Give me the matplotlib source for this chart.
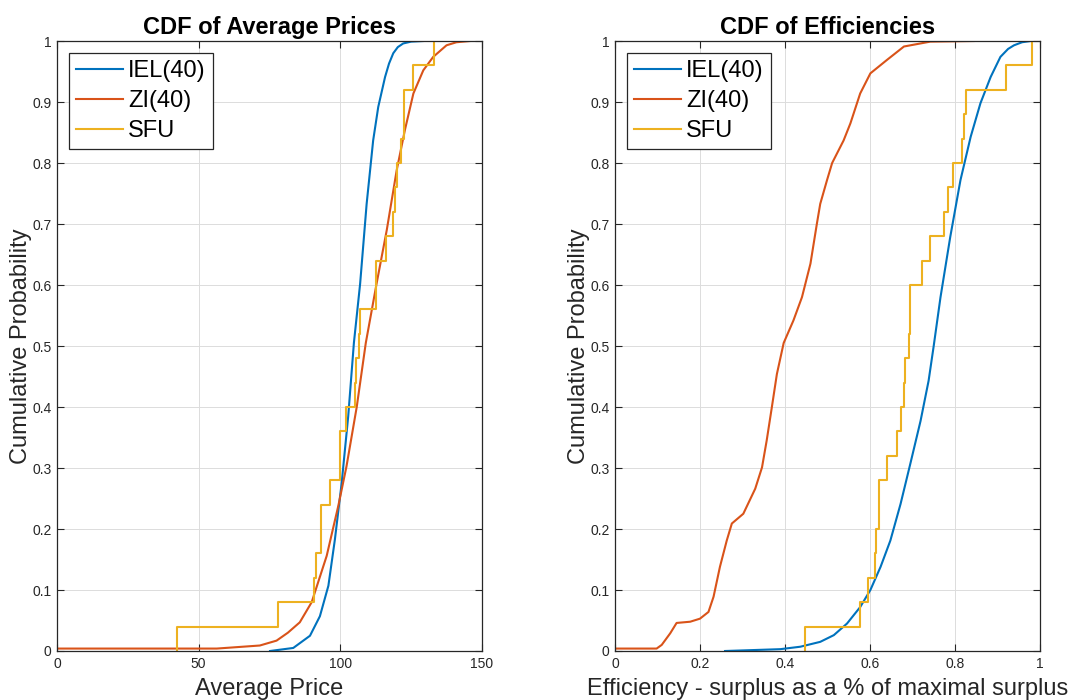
import matplotlib.pyplot as plt
import numpy as np
from matplotlib.ticker import FormatStrFormatter

plt.rcParams['font.family'] = ['Liberation Sans', 'DejaVu Sans']

# MATLAB default line colours
blue = '#0072BD'
red = '#D95319'
yellow = '#EDB120'
axis_col = '#262626'

# Left panel: CDF of average prices
iel_price_x = [75.2, 83.4, 89.3, 92.8, 95.8, 98.1, 100.5, 102.8, 104.8, 107.0, 109.3,
               111.6, 113.4, 115.8, 117.2, 118.7, 120.3, 122.2, 125.0, 129.3]
iel_price_y = [0.0, 0.005, 0.025, 0.057, 0.107, 0.183, 0.276, 0.385, 0.505, 0.602, 0.733,
               0.837, 0.892, 0.941, 0.963, 0.98, 0.99, 0.996, 0.999, 1.0]

zi_price_x = [0.0, 56.4, 71.6, 77.5, 81.5, 85.7, 89.9, 95.2, 99.3, 102.2, 105.8, 109.0,
              112.8, 116.4, 119.9, 122.8, 125.8, 129.3, 132.8, 137.5, 141.0, 145.8]
zi_price_y = [0.004, 0.004, 0.009, 0.017, 0.03, 0.047, 0.08, 0.156, 0.238, 0.303, 0.40, 0.505,
              0.602, 0.69, 0.788, 0.854, 0.914, 0.952, 0.974, 0.993, 0.998, 1.0]

sfu_price = [42.4, 78.1, 90.7, 91.4, 93.2, 93.2, 96.3, 100.0, 100.0, 102.0, 105.2, 105.6,
             106.5, 107.0, 112.5, 112.5, 116.1, 118.5, 119.3, 119.9, 121.6, 122.5, 122.5,
             125.8, 133.0]

# Right panel: CDF of efficiencies
iel_eff_x = [0.259, 0.389, 0.436, 0.483, 0.515, 0.546, 0.577, 0.601, 0.625, 0.648, 0.672,
             0.695, 0.719, 0.738, 0.750, 0.766, 0.789, 0.813, 0.837, 0.86, 0.884, 0.907,
             0.925, 0.939, 0.958, 0.978]
iel_eff_y = [0.0, 0.003, 0.007, 0.015, 0.026, 0.045, 0.072, 0.1, 0.138, 0.181, 0.241,
             0.307, 0.377, 0.443, 0.5, 0.58, 0.679, 0.772, 0.843, 0.898, 0.941, 0.974,
             0.987, 0.993, 0.998, 1.0]

zi_eff_x = [0.0, 0.098, 0.11, 0.13, 0.145, 0.177, 0.2, 0.22, 0.232, 0.247, 0.263, 0.275,
            0.302, 0.33, 0.346, 0.357, 0.369, 0.381, 0.397, 0.42, 0.44, 0.46, 0.475, 0.483,
            0.499, 0.511, 0.538, 0.554, 0.577, 0.601, 0.64, 0.68, 0.742, 0.844]
zi_eff_y = [0.004, 0.004, 0.01, 0.029, 0.046, 0.048, 0.053, 0.064, 0.089, 0.138, 0.181, 0.209,
            0.225, 0.266, 0.301, 0.345, 0.399, 0.454, 0.505, 0.542, 0.58, 0.635, 0.70, 0.733,
            0.772, 0.80, 0.837, 0.865, 0.914, 0.947, 0.969, 0.991, 0.999, 1.0]

sfu_eff = [0.446, 0.577, 0.595, 0.612, 0.614, 0.621, 0.621, 0.64, 0.664, 0.673, 0.68, 0.683,
           0.691, 0.694, 0.694, 0.723, 0.742, 0.774, 0.784, 0.795, 0.817, 0.821, 0.825,
           0.921, 0.982]

labels = ['IEL(40)', 'ZI(40)', 'SFU']


def sfu_step(ax, samples):
    s = np.sort(np.asarray(samples))
    lev = np.arange(0, len(s) + 1) / len(s)
    ax.step(np.r_[s[0], s], lev, where='post', color=yellow, lw=1.5, label=labels[2])


def style_axes(ax, title, xlabel, xlim, xticks):
    ax.set_xlim(xlim)
    ax.set_ylim(0, 1)
    ax.set_xticks(xticks)
    ax.set_yticks(np.arange(0, 1.01, 0.1))
    ax.xaxis.set_major_formatter(FormatStrFormatter('%g'))
    ax.yaxis.set_major_formatter(FormatStrFormatter('%g'))
    ax.tick_params(direction='in', top=True, right=True, length=5, width=0.8,
                   colors=axis_col, labelsize=10, pad=4)
    for sp in ax.spines.values():
        sp.set_color(axis_col)
        sp.set_linewidth(0.9)
    ax.grid(True, color='#dcdcdc', lw=0.7)
    ax.set_axisbelow(True)
    ax.set_title(title, fontsize=17, fontweight='bold', color='black', pad=5)
    ax.set_xlabel(xlabel, fontsize=17, color=axis_col, labelpad=5)
    ax.set_ylabel('Cumulative Probability', fontsize=17, color=axis_col, labelpad=0)
    leg = ax.legend(loc='upper left', fontsize=17, handlelength=2.0, handletextpad=0.2,
                    labelspacing=0.34, borderpad=0.3, borderaxespad=0.5,
                    fancybox=False, framealpha=1)
    leg.get_frame().set_edgecolor(axis_col)
    leg.get_frame().set_linewidth(0.9)


fig = plt.figure(figsize=(10.71, 7.0), dpi=100)
ax1 = fig.add_axes([0.0532, 0.07, 0.3968, 0.8714])
ax2 = fig.add_axes([0.5742, 0.07, 0.3968, 0.8714])

ax1.plot(iel_price_x, iel_price_y, color=blue, lw=1.5, label=labels[0])
ax1.plot(zi_price_x, zi_price_y, color=red, lw=1.5, label=labels[1])
sfu_step(ax1, sfu_price)
style_axes(ax1, 'CDF of Average Prices', 'Average Price', (0, 150), [0, 50, 100, 150])

ax2.plot(iel_eff_x, iel_eff_y, color=blue, lw=1.5, label=labels[0])
ax2.plot(zi_eff_x, zi_eff_y, color=red, lw=1.5, label=labels[1])
sfu_step(ax2, sfu_eff)
style_axes(ax2, 'CDF of Efficiencies', 'Efficiency - surplus as a % of maximal surplus',
           (0, 1), np.arange(0, 1.01, 0.2))

fig.savefig('out.png', dpi=100)
